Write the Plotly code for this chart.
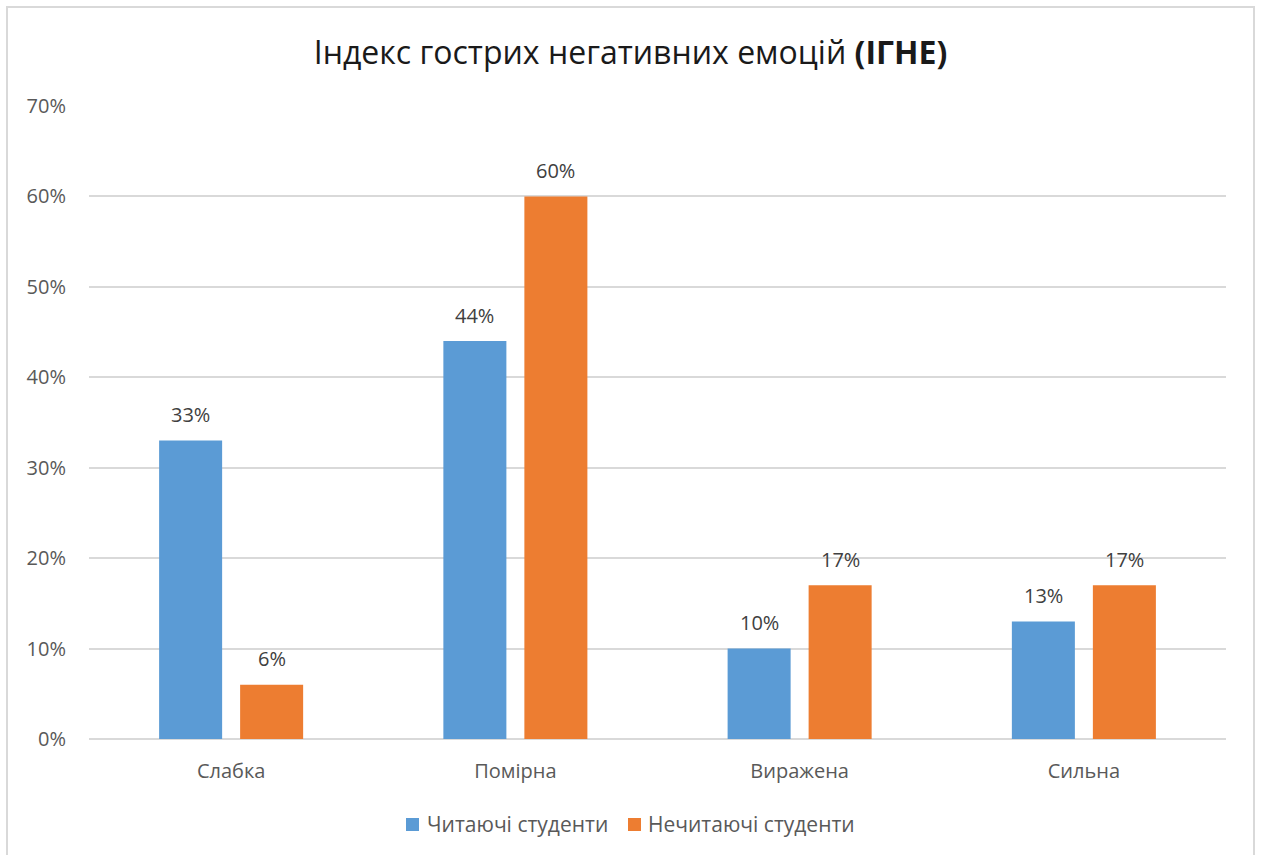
import plotly.graph_objects as go

categories = ["Слабка", "Помірна", "Виражена", "Сильна"]
reading = [33, 44, 10, 13]
non_reading = [6, 60, 17, 17]
series_names = ["Читаючі студенти", "Нечитаючі студенти"]
series_colors = ["#5B9BD5", "#ED7D31"]
tick_values = [0, 10, 20, 30, 40, 50, 60, 70]
tick_labels = [f"{v}%" for v in tick_values]

FONT = "Open Sans, Noto Sans, DejaVu Sans"
TEXT = "#595959"
LABEL = "#404040"

# plot area in pixels (for converting to paper coordinates)
L, R, T, B = 89, 35, 106, 116
W, H = 1261, 855
PW, PH = W - L - R, H - T - B


def px_x(px):
    return (px - L) / PW


def px_y(py):
    return (H - B - py) / PH


fig = go.Figure()
annotations = []
slot_offset = 40.5  # half of a bar slot, in px
for i, (name, vals, color) in enumerate(zip(series_names, [reading, non_reading], series_colors)):
    fig.add_trace(go.Bar(
        x=categories, y=vals, name=name, showlegend=False,
        marker=dict(color=color, line=dict(width=0)),
    ))
    shift = -slot_offset if i == 0 else slot_offset
    for c, v in zip(categories, vals):
        annotations.append(dict(
            x=c, y=v, xref="x", yref="y", text=f"{v}%", showarrow=False,
            xshift=shift, yshift=26, yanchor="middle",
            font=dict(size=20, color=LABEL, family=FONT),
        ))

# legend: colour squares with captions
legend_items = [(406, 425), (628, 646)]
shapes = []
for (sq_x, tx), name, color in zip(legend_items, series_names, series_colors):
    shapes.append(dict(type="rect", xref="paper", yref="paper",
                       x0=px_x(sq_x), x1=px_x(sq_x + 13),
                       y0=px_y(831), y1=px_y(818),
                       fillcolor=color, line=dict(width=0)))
    annotations.append(dict(x=px_x(tx), y=px_y(824), xref="paper", yref="paper",
                            text=name, showarrow=False, xanchor="left",
                            yanchor="middle",
                            font=dict(size=21, color=TEXT, family=FONT)))

# chart outline
shapes.append(dict(type="rect", xref="paper", yref="paper",
                   x0=px_x(7), x1=px_x(1254), y0=px_y(870), y1=px_y(7),
                   line=dict(color="#D9D9D9", width=2), layer="below"))

fig.update_layout(
    width=W, height=H,
    margin=dict(l=L, r=R, t=T, b=B),
    paper_bgcolor="white", plot_bgcolor="white",
    barmode="group", bargap=0.43, bargroupgap=0.222,
    font=dict(family=FONT, color=TEXT, size=20),
    showlegend=False,
    title=dict(
        text="Індекс гострих негативних емоцій <b>(ІГНЕ)</b>",
        x=0.5, xanchor="center", y=0.938, yanchor="middle",
        font=dict(size=32, color="#1a1a1a", family=FONT),
    ),
    xaxis=dict(showgrid=False, showline=False, ticks="",
               ticklabelstandoff=18,
               tickfont=dict(size=20, color=TEXT)),
    yaxis=dict(range=[0, 70], tickvals=tick_values, ticktext=tick_labels,
               showgrid=True, gridcolor="#D9D9D9", gridwidth=1.5,
               zeroline=True, zerolinecolor="#D9D9D9", zerolinewidth=1.5,
               showline=False, ticks="", ticklabelstandoff=22,
               tickfont=dict(size=20, color=TEXT)),
    annotations=annotations,
    shapes=shapes,
)

fig.write_html("out.html")
